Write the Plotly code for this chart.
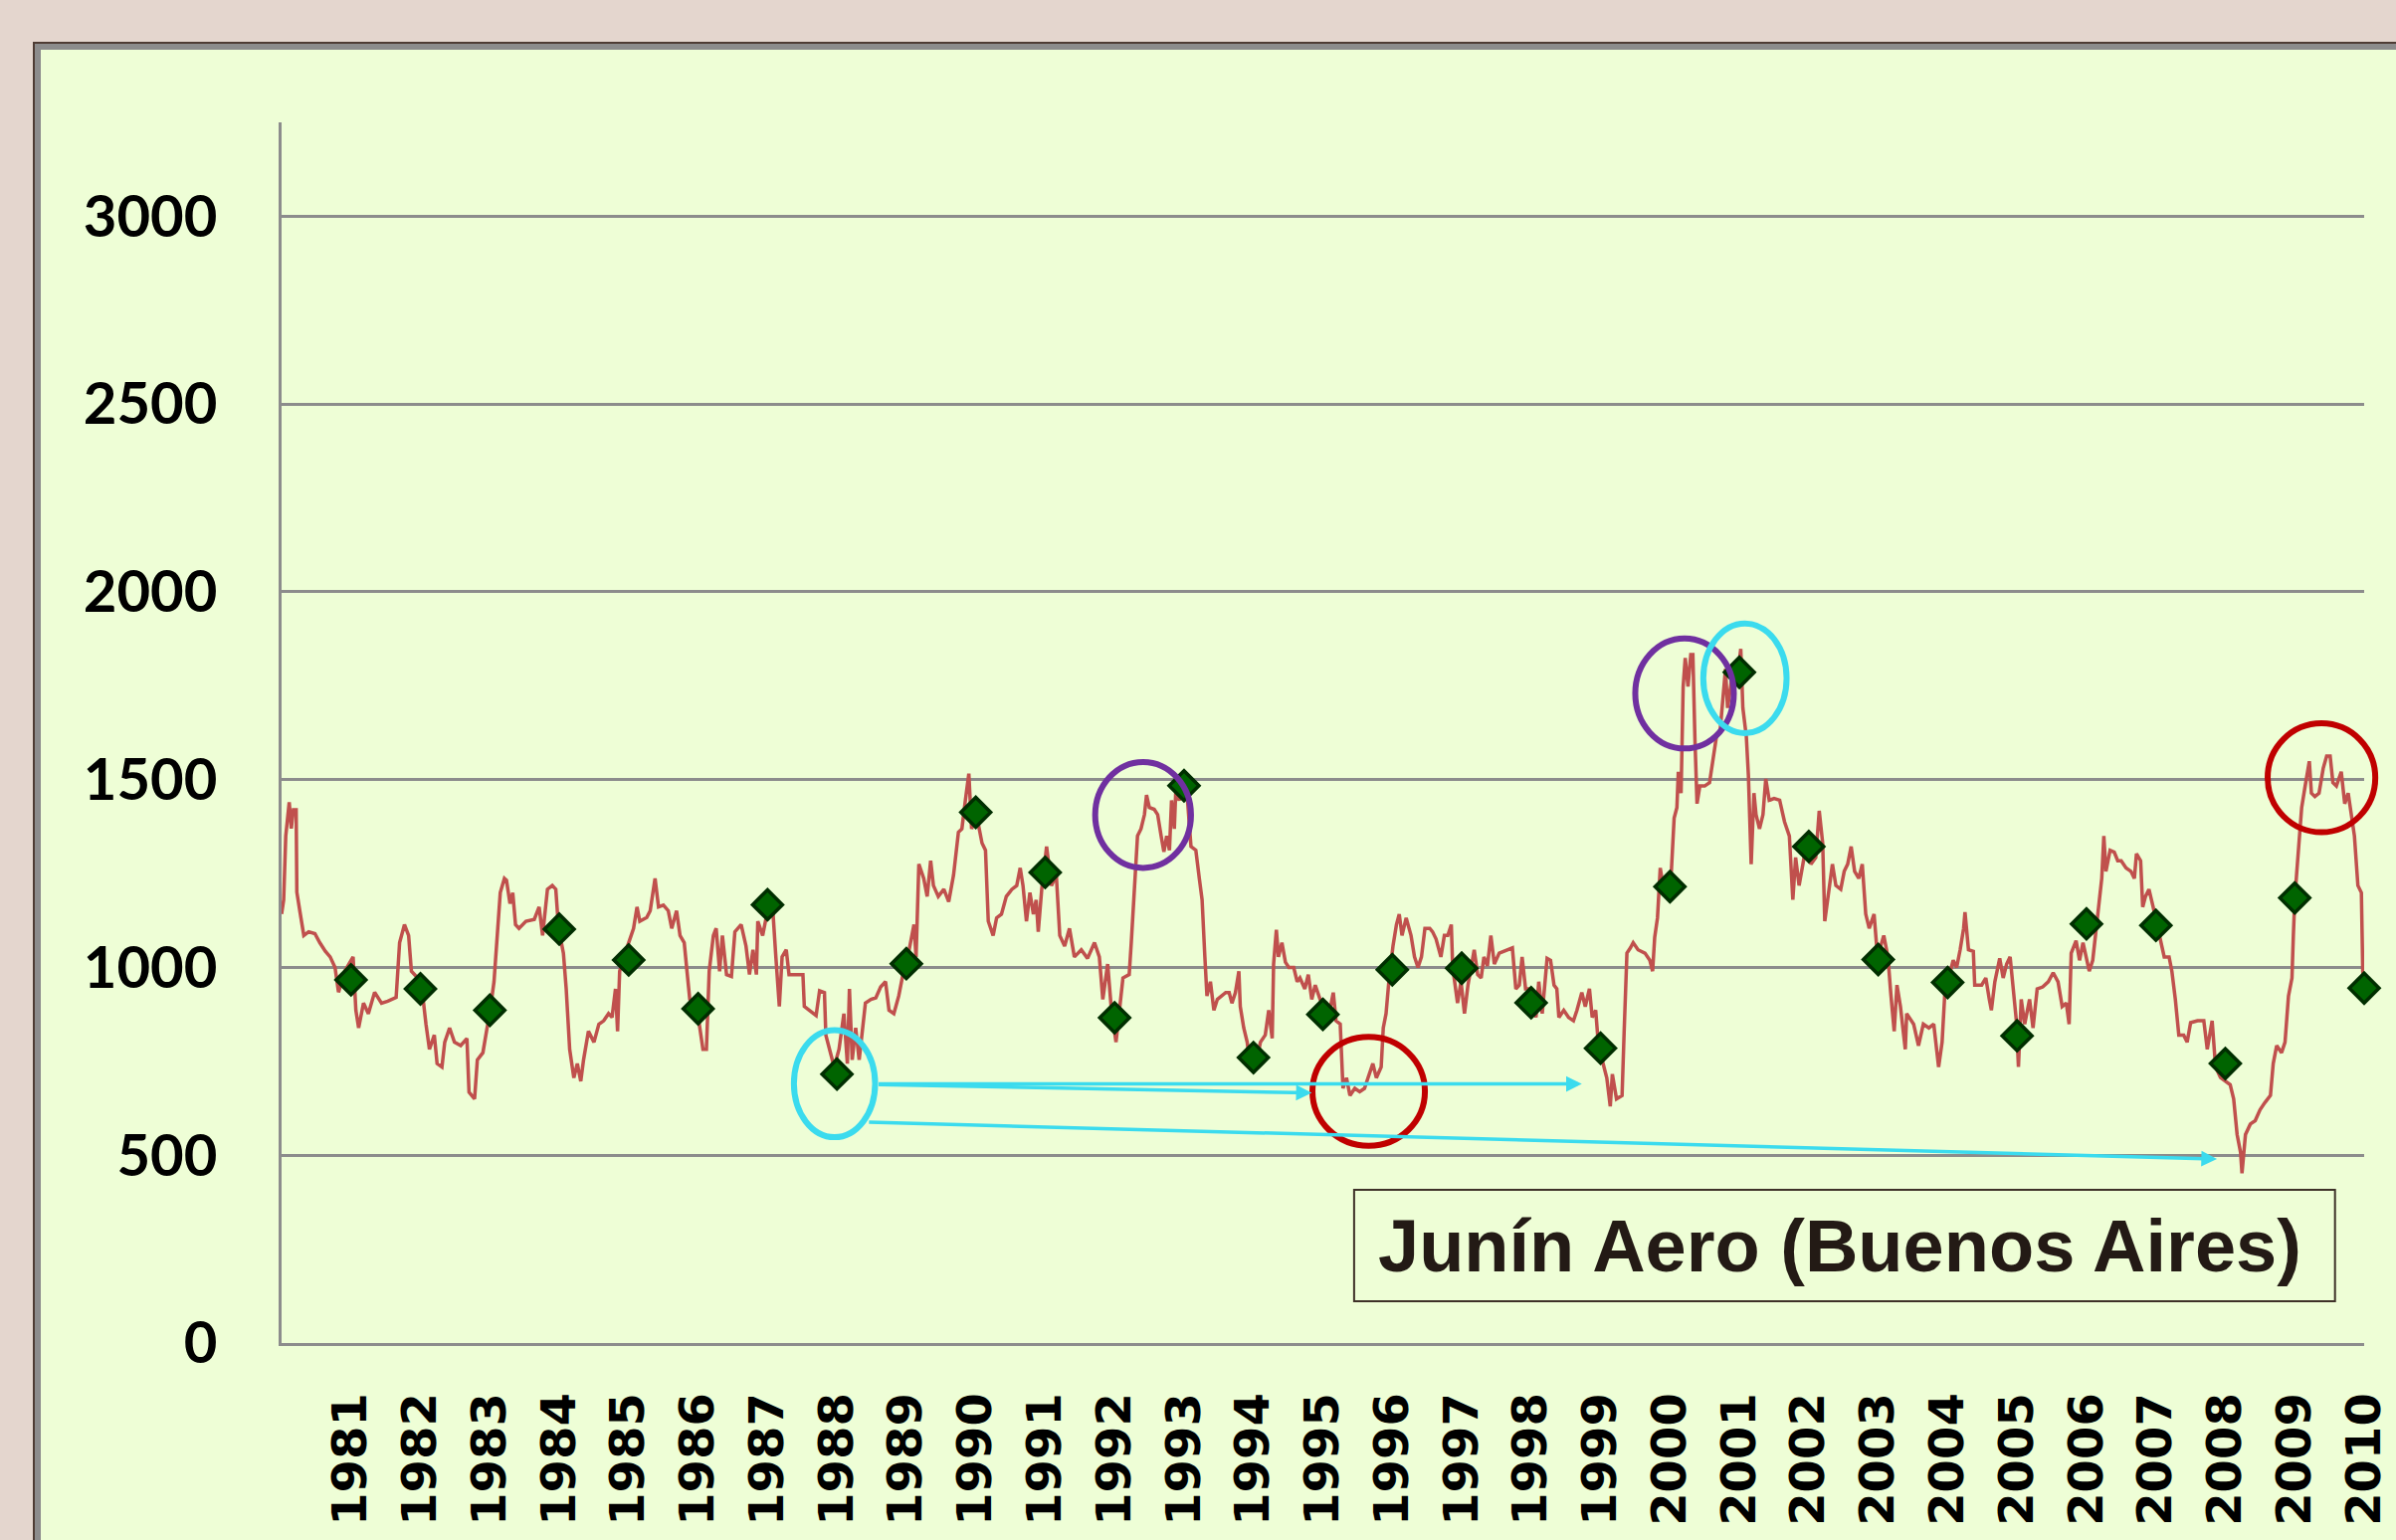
import plotly.graph_objects as go

# ---------------- data ----------------
years = list(range(1981, 2011))
tick_labels = [str(y) for y in years]
annual_values = [967, 943, 886, 1102, 1020, 890, 1167, 716, 1010, 1413,
                 1253, 866, 1484, 760, 875, 994, 998, 906, 785, 1215,
                 1786, 1322, 1021, 960, 818, 1116, 1112, 744, 1185, 945]

line_years = [
    1980.00, 1980.03, 1980.06, 1980.11, 1980.14, 1980.17, 1980.21, 1980.22, 1980.27, 1980.32,
    1980.39, 1980.48, 1980.55, 1980.63, 1980.70, 1980.77, 1980.82, 1980.91, 1981.03, 1981.07,
    1981.11, 1981.18, 1981.25, 1981.34, 1981.44, 1981.53, 1981.65, 1981.70, 1981.77, 1981.83,
    1981.87, 1982.01, 1982.08, 1982.13, 1982.20, 1982.24, 1982.31, 1982.35, 1982.42, 1982.49,
    1982.58, 1982.67, 1982.70, 1982.78, 1982.82, 1982.90, 1982.96, 1982.99, 1983.06, 1983.11,
    1983.15, 1983.21, 1983.24, 1983.29, 1983.33, 1983.37, 1983.42, 1983.52, 1983.64, 1983.71,
    1983.76, 1983.83, 1983.90, 1983.95, 1983.99, 1984.06, 1984.10, 1984.15, 1984.21, 1984.26,
    1984.31, 1984.35, 1984.42, 1984.50, 1984.57, 1984.64, 1984.71, 1984.76, 1984.81, 1984.84,
    1984.87, 1984.93, 1985.07, 1985.12, 1985.16, 1985.26, 1985.31, 1985.38, 1985.43, 1985.50,
    1985.57, 1985.62, 1985.69, 1985.74, 1985.80, 1985.84, 1985.88, 1985.98, 1986.07,
    1986.12, 1986.16, 1986.22, 1986.26, 1986.31, 1986.35, 1986.41, 1986.48, 1986.53, 1986.62,
    1986.69, 1986.74, 1986.79, 1986.84, 1986.86, 1986.93, 1987.00, 1987.08, 1987.12, 1987.17,
    1987.21, 1987.27, 1987.31, 1987.41, 1987.51, 1987.53, 1987.60, 1987.70, 1987.75, 1987.82,
    1987.84, 1987.89, 1987.96, 1988.03, 1988.10, 1988.15, 1988.18, 1988.22, 1988.27, 1988.32,
    1988.37, 1988.41, 1988.49, 1988.56, 1988.63, 1988.70, 1988.75, 1988.82, 1988.89, 1988.96,
    1989.04, 1989.11, 1989.14, 1989.18, 1989.25, 1989.30, 1989.35, 1989.39, 1989.46, 1989.54,
    1989.61, 1989.68, 1989.75, 1989.80, 1989.85, 1989.90, 1989.94, 1990.01, 1990.09, 1990.14,
    1990.18, 1990.25, 1990.30, 1990.37, 1990.44, 1990.52, 1990.59, 1990.64, 1990.68, 1990.73,
    1990.78, 1990.83, 1990.87, 1990.90, 1990.95, 1991.02, 1991.09, 1991.16, 1991.21, 1991.28,
    1991.35, 1991.42, 1991.52, 1991.61, 1991.71, 1991.78, 1991.83, 1991.90, 1991.95, 1992.02,
    1992.12, 1992.21, 1992.24, 1992.26, 1992.29, 1992.33, 1992.38, 1992.43, 1992.46, 1992.50,
    1992.57, 1992.62, 1992.67, 1992.71, 1992.75, 1992.79, 1992.82, 1992.86, 1992.88, 1992.93,
    1993.00, 1993.05, 1993.10, 1993.17, 1993.22, 1993.26, 1993.30, 1993.33, 1993.38, 1993.43,
    1993.48, 1993.55, 1993.60, 1993.65, 1993.69, 1993.74, 1993.79, 1993.81, 1993.86, 1993.91,
    1993.96, 1994.05, 1994.10, 1994.17, 1994.22, 1994.27, 1994.29, 1994.33, 1994.36, 1994.41,
    1994.46, 1994.51, 1994.58, 1994.63, 1994.67, 1994.74, 1994.79, 1994.84, 1994.89, 1994.96,
    1995.05, 1995.10, 1995.15, 1995.19, 1995.25, 1995.29, 1995.34, 1995.39, 1995.46, 1995.53,
    1995.60, 1995.65, 1995.72, 1995.77, 1995.84, 1995.87, 1995.91, 1995.95, 1996.01, 1996.06,
    1996.10, 1996.14, 1996.20, 1996.27, 1996.32, 1996.37, 1996.42, 1996.47, 1996.54, 1996.58,
    1996.63, 1996.70, 1996.75, 1996.80, 1996.85, 1996.87, 1996.94, 1996.99, 1997.04, 1997.09,
    1997.13, 1997.18, 1997.23, 1997.28, 1997.32, 1997.37, 1997.42, 1997.47, 1997.54, 1997.61,
    1997.68, 1997.73, 1997.78, 1997.83, 1997.87, 1997.92, 1997.97, 1998.07,
    1998.11, 1998.16, 1998.23, 1998.28, 1998.33, 1998.37, 1998.40, 1998.47, 1998.54, 1998.61,
    1998.66, 1998.73, 1998.78, 1998.84, 1998.88, 1998.93, 1998.97, 1999.04, 1999.09, 1999.14,
    1999.17, 1999.23, 1999.31, 1999.34, 1999.38, 1999.43, 1999.47, 1999.54, 1999.64, 1999.71,
    1999.75, 1999.78, 1999.82, 1999.86, 1999.90, 2000.02, 2000.06, 2000.10, 2000.12, 2000.16,
    2000.19, 2000.22, 2000.26, 2000.30, 2000.33, 2000.36, 2000.39, 2000.43, 2000.50, 2000.57,
    2000.62, 2000.67, 2000.72, 2000.76, 2000.80, 2000.83, 2000.91, 2000.98, 2001.02, 2001.05,
    2001.10, 2001.13, 2001.17, 2001.21, 2001.24, 2001.29, 2001.34, 2001.38, 2001.43, 2001.50,
    2001.58, 2001.65, 2001.72, 2001.77, 2001.81, 2001.86, 2001.91, 2001.96, 2002.03, 2002.10,
    2002.15, 2002.20, 2002.23, 2002.29, 2002.34, 2002.39, 2002.46, 2002.51, 2002.56, 2002.61,
    2002.66, 2002.72, 2002.77, 2002.82, 2002.87, 2002.94, 2002.99, 2003.08, 2003.14, 2003.18,
    2003.23, 2003.27, 2003.32, 2003.39, 2003.41, 2003.51, 2003.58, 2003.65, 2003.73, 2003.80,
    2003.87, 2003.92, 2003.96, 2004.08,
    2004.13, 2004.18, 2004.23, 2004.25, 2004.30, 2004.37, 2004.39, 2004.49, 2004.55, 2004.60,
    2004.63, 2004.68, 2004.75, 2004.80, 2004.85, 2004.90, 2004.94, 2004.99, 2005.02, 2005.06,
    2005.11, 2005.18, 2005.23, 2005.29, 2005.37, 2005.45, 2005.52, 2005.59, 2005.65, 2005.71,
    2005.75, 2005.78, 2005.85, 2005.90, 2005.95, 2006.04, 2006.09, 2006.14, 2006.19, 2006.22,
    2006.25, 2006.28, 2006.34, 2006.40, 2006.45, 2006.50, 2006.57, 2006.64, 2006.69, 2006.72,
    2006.78, 2006.81, 2006.85, 2006.90, 2006.96, 2007.05, 2007.12, 2007.19, 2007.23, 2007.28,
    2007.33, 2007.40, 2007.45, 2007.50, 2007.60, 2007.69, 2007.74, 2007.81, 2007.86, 2007.93,
    2008.07, 2008.12, 2008.17, 2008.22, 2008.24, 2008.29, 2008.36, 2008.43, 2008.50, 2008.57,
    2008.65, 2008.69, 2008.74, 2008.81, 2008.86, 2008.91, 2008.96, 2008.98, 2009.00, 2009.03,
    2009.08, 2009.10, 2009.15, 2009.21, 2009.24, 2009.29, 2009.35, 2009.41, 2009.46, 2009.51,
    2009.55, 2009.60, 2009.67, 2009.72, 2009.77, 2009.82, 2009.86, 2009.91, 2009.96, 2009.98,
    2010.00,
]

line_values = [
    1142, 1180, 1350, 1440, 1370, 1420, 1420, 1200, 1142, 1085,
    1095, 1090, 1066, 1043, 1028, 1000, 934, 990, 1028, 886,
    839, 905, 877, 934, 905, 910, 920, 1066, 1114, 1085,
    990, 962, 849, 782, 820, 744, 735, 801, 839, 801,
    792, 811, 668, 650, 754, 773, 839, 867, 962, 1085,
    1199, 1237, 1232, 1170, 1199, 1114, 1104, 1123, 1128, 1161,
    1085, 1208, 1218, 1208, 1104, 1038, 943, 782, 706, 744,
    697, 754, 830, 801, 849, 858, 877, 867, 943, 830,
    990, 1028, 1104, 1161, 1123, 1133, 1151, 1237, 1161, 1166,
    1151, 1104, 1151, 1085, 1066, 990, 915, 896, 782,
    782, 990, 1085, 1104, 990, 1085, 981, 976, 1095, 1114,
    1057, 981, 1047, 981, 1123, 1085, 1151, 1142, 1028, 896,
    1028, 1047, 981, 981, 981, 896, 886, 872, 938, 933,
    820, 782, 735, 782, 877, 744, 943, 754, 839, 754,
    839, 905, 915, 919, 948, 962, 886, 877, 924, 990,
    1047, 1114, 1028, 1275, 1237, 1189, 1284, 1218, 1189, 1208,
    1175, 1246, 1360, 1369, 1445, 1516, 1369, 1407, 1331, 1312,
    1123, 1085, 1132, 1142, 1189, 1208, 1218, 1265, 1218, 1123,
    1199, 1142, 1180, 1095, 1208, 1322, 1218, 1246, 1085, 1057,
    1104, 1028, 1047, 1024, 1066, 1028, 915, 1009, 896, 801,
    972, 981, 1066, 1132, 1227, 1350, 1369, 1407, 1459, 1426,
    1421, 1407, 1350, 1308, 1350, 1312, 1445, 1369, 1464, 1445,
    1483, 1445, 1322, 1312, 1237, 1180, 1028, 924, 962, 886,
    915, 924, 933, 933, 905, 933, 990, 896, 839, 801,
    726, 754, 801, 820, 886, 811, 1009, 1100, 1028, 1066,
    1014, 1000, 1000, 962, 972, 943, 981, 915, 953, 915,
    905, 886, 933, 858, 849, 678, 706, 659, 678, 669,
    678, 706, 744, 706, 735, 839, 877, 962, 1057, 1114,
    1142, 1085, 1132, 1085, 1028, 1000, 1028, 1104, 1104, 1095,
    1076, 1028, 1085, 1085, 1114, 1000, 905, 962, 877, 953,
    1000, 1047, 981, 972, 1028, 1004, 1085, 1009, 1038, 1043,
    1047, 1052, 943, 953, 1028, 943, 943, 867,
    962, 877, 1024, 1019, 953, 943, 867, 886, 867, 858,
    886, 933, 896, 943, 867, 886, 792, 744, 706, 630,
    716, 650, 659, 830, 1038, 1052, 1066, 1047, 1038, 1019,
    990, 1080, 1132, 1265, 1218, 1256, 1398, 1426, 1521, 1464,
    1748, 1824, 1748, 1833, 1833, 1606, 1436, 1483, 1483, 1492,
    1559, 1615, 1625, 1701, 1795, 1691, 1795, 1786, 1848, 1691,
    1615, 1511, 1275, 1464, 1407, 1369, 1407, 1502, 1445, 1450,
    1445, 1388, 1350, 1180, 1293, 1218, 1275, 1322, 1275, 1293,
    1417, 1331, 1123, 1199, 1275, 1218, 1208, 1256, 1275, 1322,
    1256, 1237, 1275, 1142, 1104, 1142, 1028, 1085, 1028, 933,
    830, 953, 896, 782, 877, 849, 792, 849, 839, 849,
    735, 801, 933, 1019,
    1000, 1047, 1104, 1147, 1047, 1043, 953, 953, 972, 915,
    886, 962, 1024, 972, 1009, 1028, 943, 858, 735, 915,
    849, 915, 839, 943, 948, 962, 986, 962, 896, 905,
    849, 1038, 1071, 1019, 1066, 990, 1019, 1104, 1199, 1237,
    1350, 1256, 1312, 1307, 1284, 1284, 1265, 1256, 1237, 1303,
    1284, 1161, 1189, 1208, 1161, 1085, 1028, 1028, 990, 915,
    820, 820, 801, 853, 858, 858, 782, 858, 735, 707,
    688, 650, 555, 507, 452, 555, 583, 592, 621, 640,
    659, 744, 792, 773, 801, 924, 972, 1085, 1180, 1256,
    1369, 1426, 1483, 1549, 1464, 1455, 1464, 1530, 1563, 1563,
    1492, 1483, 1521, 1436, 1464, 1407, 1350, 1218, 1199, 990,
    948,
]

title_text = "Junín Aero (Buenos Aires)"

# annotation geometry (data coordinates)
ellipses = [  # colour, x0, x1, y0, y1
    ("#3BDBEE", 1987.38, 1988.55, 548, 833),
    ("#7030A0", 1991.72, 1993.10, 1265, 1547),
    ("#C00000", 1994.85, 1996.47, 525, 815),
    ("#7030A0", 1999.50, 2000.92, 1583, 1876),
    ("#3BDBEE", 2000.48, 2001.68, 1624, 1916),
    ("#C00000", 2008.61, 2010.16, 1360, 1650),
]
arrows = [  # tail x, tail y, head x, head y
    (1988.58, 690, 1998.73, 690),
    (1988.58, 688, 1994.84, 666),
    (1988.44, 588, 2007.88, 490),
]

# ---------------- layout geometry ----------------
W, H = 2408, 1548
L, R, T, B = 283, 32, 123, 198
XMIN, XMAX = 1980, 2010
YMAX = 3250
PW, PH = W - L - R, H - T - B


def px_x(px):
    return (px - L) / PW


def px_y(py):
    return (H - B - py) / PH


def dx(x):
    return (x - XMIN) / (XMAX - XMIN)


def dy(y):
    return y / YMAX


fig = go.Figure()

fig.add_trace(go.Scatter(
    x=line_years, y=line_values, mode="lines",
    line=dict(color="#C0504D", width=3.5), hoverinfo="skip",
))
fig.add_trace(go.Scatter(
    x=years, y=annual_values, mode="markers", cliponaxis=False,
    marker=dict(symbol="diamond", size=23, color="#006400",
                line=dict(color="#002E00", width=3.5)),
    hoverinfo="skip",
))

shapes = []
# outer frame + panel
shapes.append(dict(type="rect", xref="paper", yref="paper", layer="below",
                   x0=px_x(34), x1=px_x(W + 20), y0=px_y(H + 20), y1=px_y(43),
                   fillcolor="#8C8C8C", line=dict(color="#4E3C34", width=2)))
shapes.append(dict(type="rect", xref="paper", yref="paper", layer="below",
                   x0=px_x(41), x1=px_x(W + 20), y0=px_y(H + 20), y1=px_y(50),
                   fillcolor="#EEFED6", line=dict(width=0)))
# title box
shapes.append(dict(type="rect", xref="x", yref="y", layer="above",
                   x0=1995.45, x1=2009.58, y0=111, y1=408,
                   fillcolor="rgba(0,0,0,0)", line=dict(color="#3E3128", width=2)))
# ellipses
for col, x0, x1, y0, y1 in ellipses:
    shapes.append(dict(type="circle", xref="paper", yref="paper", layer="above",
                       x0=dx(x0), x1=dx(x1), y0=dy(y0), y1=dy(y1),
                       line=dict(color=col, width=6)))

annotations = []
for tx, ty, hx, hy in arrows:
    annotations.append(dict(x=hx, y=hy, ax=tx, ay=ty, xref="x", yref="y",
                            axref="x", ayref="y", text="", showarrow=True,
                            arrowhead=2, arrowsize=0.9, arrowwidth=3.5,
                            arrowcolor="#3BDBEE", standoff=0, startstandoff=0))
annotations.append(dict(x=2002.45, y=259, xref="x", yref="y",
                        text="<b>" + title_text + "</b>",
                        showarrow=False, xanchor="center", yanchor="middle",
                        font=dict(family="Liberation Sans, Arial", size=74,
                                  color="#231A15")))

fig.update_layout(
    width=W, height=H, autosize=False,
    margin=dict(l=L, r=R, t=T, b=B, pad=0, autoexpand=False),
    paper_bgcolor="#E4D6CE", plot_bgcolor="rgba(0,0,0,0)",
    showlegend=False, hovermode=False,
    shapes=shapes, annotations=annotations,
    xaxis=dict(range=[XMIN, XMAX], tickmode="array", tickvals=years,
               ticktext=tick_labels, tickangle=-90, showgrid=False,
               zeroline=False, showline=True, linecolor="#8C8C8C", linewidth=3,
               ticks="", ticklabelstandoff=28, automargin=False,
               tickfont=dict(family="DejaVu Sans", size=48, color="#000000",
                             weight="bold")),
    yaxis=dict(range=[0, YMAX], tickmode="array",
               tickvals=[0, 500, 1000, 1500, 2000, 2500, 3000],
               ticktext=["0", "500", "1000", "1500", "2000", "2500", "3000"],
               showgrid=True, gridcolor="#8C8C8C", gridwidth=3,
               zeroline=False, showline=True, linecolor="#8C8C8C", linewidth=3,
               ticks="", ticklabelstandoff=50, automargin=False,
               tickfont=dict(family="Lato", size=58, color="#000000",
                             weight="bold")),
)

fig.write_html("out.html", config={"displayModeBar": False},
               post_script="document.body.style.margin='0';document.body.style.overflow='hidden';")
